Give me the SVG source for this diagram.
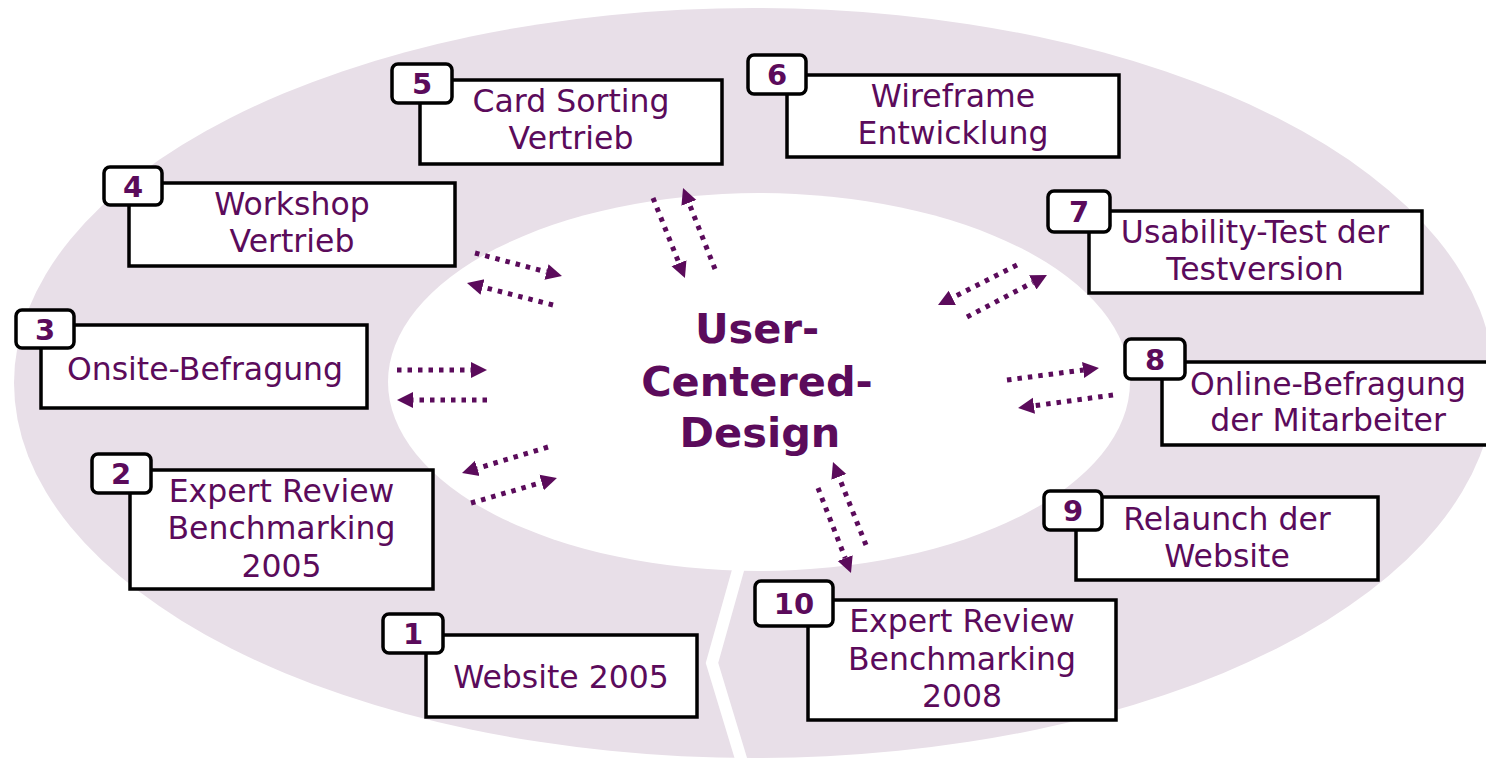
<svg xmlns="http://www.w3.org/2000/svg" width="1486" height="758" viewBox="0 0 1486 758">
<defs>
<style>
.bg{fill:#e8dfe8}
.box{fill:#fff;stroke:#000;stroke-width:3.5}
.badge{fill:#fff;stroke:#000;stroke-width:3.5}
.lbl{font-family:"DejaVu Sans",Verdana,sans-serif;font-size:31.5px;fill:#5b0b5b;text-anchor:middle}
.num{font-family:"DejaVu Sans",Verdana,sans-serif;font-size:29px;font-weight:bold;fill:#5b0b5b;text-anchor:middle}
.ctr{font-family:"DejaVu Sans",Verdana,sans-serif;font-size:41.5px;font-weight:bold;fill:#5b0b5b;text-anchor:middle}
.arr{stroke:#5b0b5b;stroke-width:5;stroke-dasharray:4.5 6;fill:none;marker-end:url(#ah)}
</style>
<marker id="ah" markerUnits="userSpaceOnUse" markerWidth="18" markerHeight="18" refX="0" refY="8" orient="auto" viewBox="0 0 18 16">
<path d="M0,0 L16,8 L0,16 z" fill="#5b0b5b"/>
</marker>
</defs>
<g id="background">
<ellipse class="bg" cx="754" cy="383" rx="740" ry="375"/>
<ellipse cx="759" cy="382" rx="371" ry="189" fill="#fff"/>
<polyline points="742,556 712,663 742,762" fill="none" stroke="#fff" stroke-width="12"/>
</g>
<g id="connectors">
<line class="arr" x1="475" y1="253" x2="546.5" y2="271.9"/>
<line class="arr" x1="553" y1="305" x2="482.5" y2="287"/>
<line class="arr" x1="397" y1="370" x2="471" y2="370"/>
<line class="arr" x1="487" y1="400" x2="413" y2="400"/>
<line class="arr" x1="548" y1="447" x2="477.3" y2="468.4"/>
<line class="arr" x1="471" y1="503" x2="541.6" y2="482.5"/>
<line class="arr" x1="653" y1="198" x2="679" y2="263.2"/>
<line class="arr" x1="715" y1="269" x2="688.9" y2="202.9"/>
<line class="arr" x1="1017" y1="265" x2="952.3" y2="297.8"/>
<line class="arr" x1="967" y1="317" x2="1032.8" y2="282.4"/>
<line class="arr" x1="1007" y1="380" x2="1083.1" y2="370"/>
<line class="arr" x1="1113" y1="395" x2="1033.9" y2="405.8"/>
<line class="arr" x1="818" y1="488" x2="845.2" y2="558.1"/>
<line class="arr" x1="866" y1="545" x2="838.9" y2="476.9"/>
</g>
<g id="center">
<text class="ctr" x="757" y="343">User-</text>
<text class="ctr" x="757" y="396">Centered-</text>
<text class="ctr" x="760" y="447">Design</text>
</g>
<g id="node1">
<rect class="box" x="426" y="635" width="271" height="82"/>
<rect class="badge" x="383" y="614" width="60" height="39" rx="6"/>
<text class="num" x="413" y="644">1</text>
<text class="lbl" x="561" y="688">Website 2005</text>
</g>
<g id="node2">
<rect class="box" x="130" y="470" width="303" height="119"/>
<rect class="badge" x="92" y="454" width="59" height="39" rx="6"/>
<text class="num" x="121" y="484">2</text>
<text class="lbl" x="281.5" y="502">Expert Review</text>
<text class="lbl" x="281.5" y="539">Benchmarking</text>
<text class="lbl" x="281.5" y="577">2005</text>
</g>
<g id="node3">
<rect class="box" x="41" y="325" width="326" height="83"/>
<rect class="badge" x="16" y="310" width="58" height="38" rx="6"/>
<text class="num" x="45" y="340">3</text>
<text class="lbl" x="205" y="380">Onsite-Befragung</text>
</g>
<g id="node4">
<rect class="box" x="129" y="183" width="326" height="83"/>
<rect class="badge" x="104" y="167" width="58" height="38" rx="6"/>
<text class="num" x="133" y="197">4</text>
<text class="lbl" x="292" y="215">Workshop</text>
<text class="lbl" x="292" y="252">Vertrieb</text>
</g>
<g id="node5">
<rect class="box" x="420" y="80" width="302" height="84"/>
<rect class="badge" x="392" y="64" width="60" height="39" rx="6"/>
<text class="num" x="422" y="94">5</text>
<text class="lbl" x="571" y="112">Card Sorting</text>
<text class="lbl" x="571" y="149">Vertrieb</text>
</g>
<g id="node6">
<rect class="box" x="787" y="75" width="332" height="82"/>
<rect class="badge" x="748" y="55" width="58" height="39" rx="6"/>
<text class="num" x="777" y="85">6</text>
<text class="lbl" x="953" y="107">Wireframe</text>
<text class="lbl" x="953" y="144">Entwicklung</text>
</g>
<g id="node7">
<rect class="box" x="1089" y="211" width="333" height="82"/>
<rect class="badge" x="1048" y="191" width="62" height="41" rx="6"/>
<text class="num" x="1079" y="222">7</text>
<text class="lbl" x="1255" y="243">Usability-Test der</text>
<text class="lbl" x="1255" y="280">Testversion</text>
</g>
<g id="node8">
<rect class="box" x="1162" y="362" width="340" height="83"/>
<rect class="badge" x="1125" y="339" width="60" height="40" rx="6"/>
<text class="num" x="1155" y="370">8</text>
<text class="lbl" x="1328" y="395">Online-Befragung</text>
<text class="lbl" x="1328" y="431">der Mitarbeiter</text>
</g>
<g id="node9">
<rect class="box" x="1076" y="497" width="302" height="83"/>
<rect class="badge" x="1044" y="491" width="58" height="39" rx="6"/>
<text class="num" x="1073" y="521">9</text>
<text class="lbl" x="1227" y="530">Relaunch der</text>
<text class="lbl" x="1227" y="567">Website</text>
</g>
<g id="node10">
<rect class="box" x="808" y="600" width="308" height="120"/>
<rect class="badge" x="755" y="581" width="78" height="45" rx="6"/>
<text class="num" x="794" y="614">10</text>
<text class="lbl" x="962" y="632">Expert Review</text>
<text class="lbl" x="962" y="670">Benchmarking</text>
<text class="lbl" x="962" y="707">2008</text>
</g>
</svg>
